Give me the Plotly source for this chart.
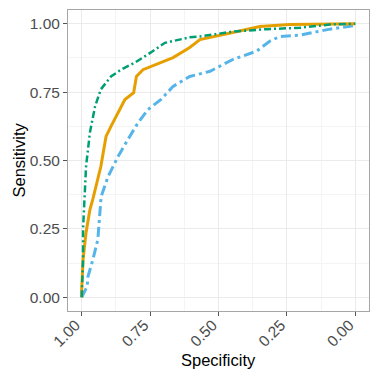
import plotly.graph_objects as go

# ROC curves: specificity (x, reversed) vs sensitivity (y)
green_spec = [1.0, 0.999, 0.995, 0.995, 0.99, 0.984, 0.97, 0.951, 0.93, 0.893, 0.856, 0.805,
              0.747, 0.696, 0.605, 0.568, 0.448, 0.323, 0.203, 0.093, 0.0]
green_sens = [0.0, 0.03, 0.14, 0.25, 0.37, 0.478, 0.602, 0.698, 0.76, 0.807, 0.832, 0.858,
              0.895, 0.93, 0.95, 0.953, 0.971, 0.98, 0.985, 0.997, 1.0]

orange_spec = [1.0, 1.0, 0.995, 0.984, 0.97, 0.959, 0.93, 0.911, 0.893, 0.867, 0.842, 0.81,
               0.80, 0.776, 0.726, 0.666, 0.605, 0.568, 0.448, 0.349, 0.24, 0.093, 0.0]
orange_sens = [0.0, 0.028, 0.138, 0.237, 0.32, 0.36, 0.478, 0.588, 0.625, 0.675, 0.723, 0.748,
               0.807, 0.832, 0.851, 0.876, 0.913, 0.942, 0.968, 0.99, 0.997, 1.0, 1.0]

blue_spec = [1.0, 0.98, 0.977, 0.959, 0.941, 0.93, 0.929, 0.904, 0.867, 0.831, 0.794, 0.758,
             0.71, 0.666, 0.605, 0.531, 0.448, 0.36, 0.313, 0.276, 0.203, 0.155, 0.093, 0.0, 0.0]
blue_sens = [0.0, 0.04, 0.076, 0.138, 0.211, 0.33, 0.368, 0.44, 0.515, 0.577, 0.638, 0.686,
             0.723, 0.771, 0.807, 0.826, 0.869, 0.9, 0.936, 0.953, 0.958, 0.968, 0.98, 0.994, 1.0]

tick_vals = [0.0, 0.25, 0.5, 0.75, 1.0]
tick_text = ["0.00", "0.25", "0.50", "0.75", "1.00"]
minor_vals = [0.125, 0.375, 0.625, 0.875]

FONT = "Liberation Sans, Arial, sans-serif"

fig = go.Figure()
fig.add_trace(go.Scatter(x=blue_spec, y=blue_sens, mode="lines", name="Model 3",
                         line=dict(color="#56B4E9", width=3, dash="10px,4px,3px,4px")))
fig.add_trace(go.Scatter(x=orange_spec, y=orange_sens, mode="lines", name="Model 2",
                         line=dict(color="#E69F00", width=3)))
fig.add_trace(go.Scatter(x=green_spec, y=green_sens, mode="lines", name="Model 1",
                         line=dict(color="#009E73", width=2.5, dash="7px,3px,2px,3px")))

axis_common = dict(
    tickmode="array", tickvals=tick_vals, ticktext=tick_text,
    showgrid=True, gridcolor="#ebebeb", gridwidth=1,
    zeroline=False, showline=True, mirror=True, linecolor="#a6a6a6", linewidth=1,
    ticks="outside", ticklen=4, tickcolor="#555555", tickwidth=1,
    tickfont=dict(family=FONT, size=15.5, color="#4d4d4d"),
    automargin=False,
    minor=dict(tickmode="array", tickvals=minor_vals, showgrid=True,
               gridcolor="#f4f4f4", gridwidth=1, ticks=""),
)

# The page body adds an 8px offset; margins compensate so the panel sits where the reference has it.
fig.update_layout(
    width=380, height=373,
    margin=dict(l=60, r=19, t=2, b=70),
    paper_bgcolor="white", plot_bgcolor="white",
    showlegend=False,
    xaxis=dict(range=[1.05, -0.05], tickangle=-45, ticklabelshift=6, ticklabelstandoff=-6,
               **axis_common),
    yaxis=dict(range=[-0.05, 1.05], **axis_common),
    annotations=[
        dict(text="Specificity", xref="paper", yref="paper", x=0.5, y=-0.163,
             xanchor="center", yanchor="middle", showarrow=False,
             font=dict(family=FONT, size=16.5, color="black")),
        dict(text="Sensitivity", xref="paper", yref="paper", x=-0.166, y=0.5,
             xanchor="center", yanchor="middle", showarrow=False, textangle=-90,
             font=dict(family=FONT, size=16.5, color="black")),
    ],
)

fig.write_html("out.html")
